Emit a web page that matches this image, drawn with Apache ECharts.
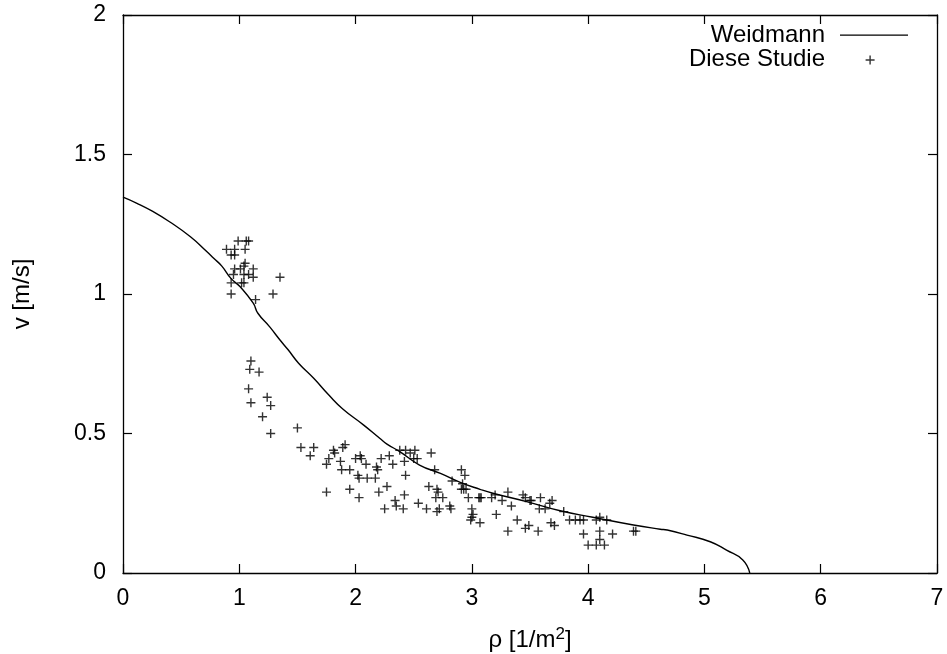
<!DOCTYPE html>
<html><head><meta charset="utf-8">
<script src="https://cdn.jsdelivr.net/npm/echarts@6/dist/echarts.min.js"></script>
<style>html,body{margin:0;padding:0;background:#fff}#c{width:947px;height:654px}</style>
</head><body><div id="c"></div>
<script>
// Weidmann curve
const weidRho = [0,0.12,0.26,0.40,0.58,0.72,0.78,0.85,0.93,1.01,1.12,1.16,1.26,1.35,1.42,1.51,1.64,1.77,1.89,2.07,2.21,2.27,2.38,2.55,2.73,2.90,3.07,3.18,3.47,3.76,4.04,4.39,4.62,4.68,4.85,5.05,5.19,5.33,5.39];
const weidV   = [1.347,1.325,1.295,1.259,1.205,1.152,1.128,1.100,1.055,1.025,0.967,0.931,0.883,0.835,0.800,0.752,0.698,0.638,0.588,0.530,0.482,0.462,0.435,0.387,0.357,0.325,0.300,0.286,0.256,0.223,0.200,0.172,0.157,0.154,0.136,0.112,0.082,0.047,0];
// Diese Studie points
const studyRho = [0.99,1.06,1.08,0.89,0.96,1.05,0.93,0.96,1.05,0.96,1.01,1.04,1.12,0.95,1.04,1.08,1.12,1.35,0.93,1.02,1.04,0.93,1.29,1.14,
1.10,1.09,1.17,1.08,1.24,1.10,1.27,1.20,1.50,1.27,
1.53,1.64,1.61,1.91,1.89,1.81,1.82,1.77,1.75,1.87,1.88,1.95,2.02,2.03,2.10,2.17,2.00,2.04,2.05,2.09,2.18,2.19,2.22,2.29,2.32,2.38,2.43,2.47,2.51,2.42,2.50,2.53,2.65,2.43,1.75,1.95,2.03,2.20,2.27,2.34,2.42,2.35,2.41,2.25,2.54,2.61,2.63,2.70,2.71,2.69,2.75,2.68,2.72,2.70,2.81,2.82,2.91,2.94,2.83,2.91,2.93,2.97,3.06,3.00,3.00,2.99,2.92,2.95,3.07,3.08,3.17,3.20,3.26,3.31,3.34,3.44,3.46,3.50,3.51,3.59,3.67,3.69,3.58,3.63,3.79,3.84,3.89,3.93,3.96,4.07,4.10,4.16,3.01,3.07,3.21,3.39,3.31,3.46,3.49,3.57,3.68,3.71,3.96,4.10,4.21,4.00,4.07,4.10,4.14,4.39,4.41];
const studyV = [1.19,1.19,1.19,1.16,1.16,1.16,1.14,1.14,1.11,1.09,1.09,1.10,1.09,1.07,1.07,1.07,1.06,1.06,1.04,1.04,1.04,1.00,1.00,0.98,
0.76,0.73,0.72,0.66,0.63,0.61,0.60,0.56,0.52,0.50,
0.45,0.45,0.42,0.46,0.45,0.44,0.43,0.41,0.39,0.40,0.37,0.37,0.35,0.34,0.34,0.34,0.41,0.42,0.41,0.39,0.38,0.37,0.41,0.42,0.39,0.44,0.44,0.43,0.44,0.40,0.41,0.41,0.43,0.35,0.29,0.30,0.27,0.29,0.31,0.26,0.28,0.24,0.23,0.23,0.25,0.23,0.31,0.30,0.29,0.27,0.27,0.37,0.23,0.22,0.24,0.23,0.37,0.35,0.33,0.30,0.30,0.27,0.27,0.23,0.20,0.19,0.32,0.30,0.27,0.27,0.27,0.28,0.26,0.29,0.24,0.28,0.27,0.26,0.26,0.27,0.25,0.26,0.23,0.23,0.22,0.19,0.19,0.19,0.19,0.19,0.20,0.19,0.21,0.18,0.21,0.19,0.15,0.16,0.17,0.15,0.18,0.17,0.14,0.15,0.14,0.10,0.10,0.12,0.10,0.15,0.15];
const xTicks = [0,1,2,3,4,5,6,7];
const yTicks = [0,0.5,1,1.5,2];

const chart = echarts.init(document.getElementById('c'), null, {renderer:'canvas'});
const font = 'Liberation Sans, Arial, sans-serif';
const FS = 23;
const plus = 'path://M3.8,0L5.2,0L5.2,3.8L9,3.8L9,5.2L5.2,5.2L5.2,9L3.8,9L3.8,5.2L0,5.2L0,3.8L3.8,3.8Z';
// legend plus icon: cross centred in a 68x24 box; tiny corner specks fix the bounding box
const plusIcon = 'path://M0,0L0.01,0L0.01,0.01Z M68,24L67.99,24L67.99,23.99Z M29.4,8.5L30.8,8.5L30.8,12.3L34.6,12.3L34.6,13.7L30.8,13.7L30.8,17.5L29.4,17.5L29.4,13.7L25.6,13.7L25.6,12.3L29.4,12.3Z';
const lineIcon = 'path://M0,0L0.01,0L0.01,0.01Z M68,24L67.99,24L67.99,23.99Z M0,11.4L68,11.4L68,12.7L0,12.7Z';
function xAx(pos, show){
  return {type:'value', min:0, max:7, interval:1, position:pos,
    axisLine:{show:true,onZero:false,lineStyle:{color:'#000',width:1.3}},
    axisTick:{show:true,inside:true,length:9,lineStyle:{color:'#000',width:1.2}},
    axisLabel:{show:show,color:'#000',fontSize:FS,fontFamily:font,margin:14,
      formatter:v=>xTicks.includes(v)?String(v):''},
    splitLine:{show:false}};
}
function yAx(pos, show){
  return {type:'value', min:0, max:2, interval:0.5, position:pos,
    axisLine:{show:true,onZero:false,lineStyle:{color:'#000',width:1.3}},
    axisTick:{show:true,inside:true,length:9,lineStyle:{color:'#000',width:1.2}},
    axisLabel:{show:show,color:'#000',fontSize:FS,fontFamily:font,margin:17,
      formatter:v=>yTicks.includes(v)?String(v):''},
    splitLine:{show:false}};
}
const xa = xAx('bottom', true);
xa.name = '{a|ρ [1/m}{s|2}{a|]}';
xa.nameLocation = 'middle';
xa.nameGap = 53;
xa.nameTextStyle = {color:'#000', rich:{a:{fontSize:24,fontFamily:font,color:'#000'}, s:{fontSize:17,fontFamily:font,color:'#000',verticalAlign:'top',padding:[0,0,12,0]}}};
const ya = yAx('left', true);
ya.name = 'v [m/s]';
ya.nameLocation = 'middle';
ya.nameGap = 89;
ya.nameTextStyle = {color:'#000',fontSize:24,fontFamily:font};

chart.setOption({
  animation:false,
  backgroundColor:'#fff',
  grid:{left:123,right:10,top:15,bottom:81,containLabel:false,outerBoundsMode:'none'},
  xAxis:[xa, xAx('top', false)],
  yAxis:[ya, yAx('right', false)],
  legend:{
    orient:'vertical', right:34, top:18, align:'right', itemGap:0,
    itemWidth:68, itemHeight:24,
    textStyle:{color:'#000',fontSize:24,fontFamily:font,padding:[0,10,0,0]},
    data:[
      {name:'Weidmann', icon:lineIcon, itemStyle:{color:'#000'}},
      {name:'Diese Studie', icon:plusIcon, itemStyle:{color:'#000'}}
    ]
  },
  series:[
    {name:'Weidmann', type:'line', xAxisIndex:0, yAxisIndex:0,
     data: weidRho.map((r,i)=>[r,weidV[i]]), showSymbol:false, symbol:'none', smooth:true,
     lineStyle:{color:'#000',width:1.4}, itemStyle:{color:'#000'}},
    {name:'Diese Studie', type:'scatter', xAxisIndex:0, yAxisIndex:0,
     data: studyRho.map((r,i)=>[r,studyV[i]]), symbol:plus, symbolSize:9,
     itemStyle:{color:'#000'}}
  ]
});
</script></body></html>
